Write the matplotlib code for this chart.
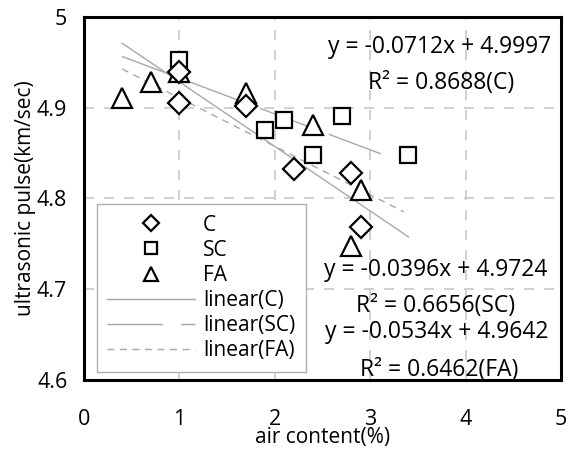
import matplotlib
matplotlib.use('Agg')
import matplotlib.pyplot as plt
import numpy as np

# 데이터
c_x = [1.0, 1.0, 1.7, 2.2, 2.8, 2.9]
c_y = [4.939, 4.905, 4.902, 4.832, 4.828, 4.768]
sc_x = [1.0, 1.9, 2.1, 2.4, 2.7, 3.4]
sc_y = [4.953, 4.875, 4.886, 4.848, 4.891, 4.848]
fa_x = [0.4, 0.7, 1.0, 1.7, 2.4, 2.9, 2.8]
fa_y = [4.911, 4.928, 4.940, 4.916, 4.881, 4.809, 4.748]

# 추세선 계수
fit_c = (-0.0712, 4.9997)
fit_sc = (-0.0396, 4.9724)
fit_fa = (-0.0534, 4.9642)
fit_range = {'C': (0.4, 3.4), 'SC': (0.4, 3.2), 'FA': (0.4, 3.35)}

eq_texts = ['y = -0.0712x + 4.9997', 'R² = 0.8688(C)',
            'y = -0.0396x + 4.9724', 'R² = 0.6656(SC)',
            'y = -0.0534x + 4.9642', 'R² = 0.6462(FA)']
eq_pos = [(3.73, 4.967), (3.74, 4.927),
          (3.68, 4.721), (3.68, 4.681),
          (3.70, 4.653), (3.72, 4.611)]

plt.rcParams['font.family'] = ['Open Sans', 'DejaVu Sans']

fig = plt.figure(figsize=(5.75, 4.5), dpi=100)
ax = fig.add_axes([0.146, 0.156, 0.830, 0.806])

ms = dict(markerfacecolor='white', markeredgecolor='black', markeredgewidth=1.6,
          linestyle='none')
ax.plot(sc_x, sc_y, marker='s', markersize=11, label='SC', zorder=3, **ms)
ax.plot(fa_x, fa_y, marker='^', markersize=14, label='FA', zorder=4, **ms)
ax.plot(c_x, c_y, marker='D', markersize=11, label='C', zorder=5, **ms)

line_col = '#a8a8a8'
xs = np.array(fit_range['C'])
lc, = ax.plot(xs, fit_c[0] * xs + fit_c[1], color=line_col, lw=1.0, label='linear(C)', zorder=2)
xs = np.array(fit_range['SC'])
lsc, = ax.plot(xs, fit_sc[0] * xs + fit_sc[1], color=line_col, lw=1.0, label='linear(SC)', zorder=2,
               dashes=(40, 13))
xs = np.array(fit_range['FA'])
lfa, = ax.plot(xs, fit_fa[0] * xs + fit_fa[1], color=line_col, lw=1.0, label='linear(FA)', zorder=2,
               dashes=(5, 4))

for t, (px, py) in zip(eq_texts, eq_pos):
    ax.text(px, py, t, ha='center', va='center', fontsize=16.5, zorder=6)

ax.set_xlim(0, 5)
ax.set_ylim(4.6, 5.0)
ax.set_xticks([0, 1, 2, 3, 4, 5])
ax.set_yticks([4.6, 4.7, 4.8, 4.9, 5.0])
ax.set_yticklabels(['4.6', '4.7', '4.8', '4.9', '5'])
ax.tick_params(length=0, labelsize=15.5)
ax.tick_params(axis='x', pad=21)
ax.tick_params(axis='y', pad=12)
ax.grid(True, color='#c8c8c8', linestyle=(0, (6, 6)), lw=1.2)
ax.set_axisbelow(True)
for s in ax.spines.values():
    s.set_linewidth(2.2)

ax.set_xlabel('air content(%)', fontsize=15, labelpad=-2)
ax.set_ylabel('ultrasonic pulse(km/sec)', fontsize=15, labelpad=1)

handles, labels = ax.get_legend_handles_labels()
order = [2, 0, 1, 3, 4, 5]
leg = ax.legend([handles[i] for i in order], [labels[i] for i in order],
                loc='lower left', bbox_to_anchor=(0.027, 0.022), borderaxespad=0,
                fontsize=15, handlelength=4.2, handletextpad=0.4, labelspacing=0.2,
                fancybox=False, edgecolor='#b0b0b0', framealpha=1, borderpad=0.5,
                markerscale=0.75)
leg.get_frame().set_linewidth(1.0)

fig.savefig('out.png', dpi=100)
